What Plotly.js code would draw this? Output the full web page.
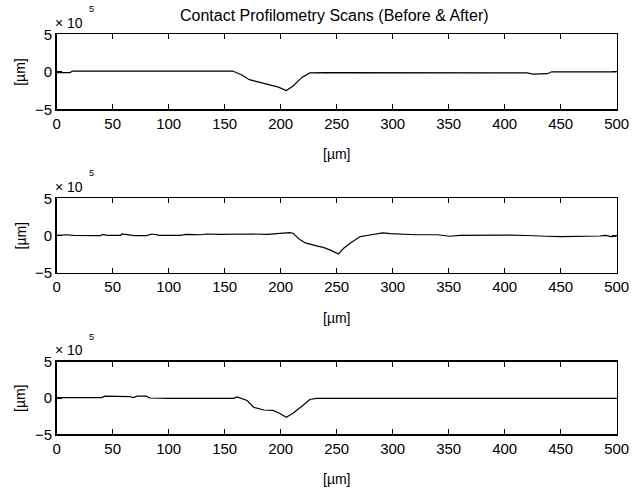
<!DOCTYPE html>
<html>
<head>
<meta charset="utf-8">
<script src="https://cdn.plot.ly/plotly-3.0.1.min.js"></script>
<style>html,body{margin:0;padding:0;background:#fff;}#chart{width:634px;height:492px;}</style>
</head>
<body>
<div id="chart"></div>
<script>
// Profile heights in units of 1e5 µm (axes labelled ×10^5)
const scan1X = [0, 12, 14, 50, 100, 150, 157, 165, 172, 177, 187, 198, 205, 211, 219, 226, 240, 300, 380, 420, 425, 432, 438, 442, 450, 500];
const scan1Y = [-0.1, -0.1, 0.1, 0.12, 0.12, 0.12, 0.1, -0.4, -1.05, -1.25, -1.6, -2.05, -2.5, -1.9, -0.75, -0.15, -0.1, -0.1, -0.1, -0.15, -0.3, -0.3, -0.25, 0.0, -0.02, -0.02];

const scan2X = [0, 9, 15, 24, 39, 41, 45, 57, 58, 69, 80, 85, 92, 110, 116, 128, 134, 146, 164, 176, 188, 200, 208, 211, 214, 217, 222, 226, 232, 238, 245, 251.5, 256, 262, 267, 271, 277, 284, 291, 298, 306, 320, 340, 351, 360, 380, 400, 420, 425, 430, 437, 450, 465, 480, 485, 490, 495, 500];
const scan2Y = [0.02, 0.1, 0.02, -0.02, -0.02, 0.15, 0.02, 0.02, 0.2, -0.02, -0.02, 0.2, 0.02, 0.02, 0.15, 0.1, 0.2, 0.15, 0.2, 0.2, 0.15, 0.34, 0.38, 0.3, -0.15, -0.55, -1.0, -1.2, -1.4, -1.6, -2.0, -2.5, -1.75, -1.05, -0.55, -0.15, 0.0, 0.15, 0.34, 0.25, 0.16, 0.1, 0.1, -0.1, 0.02, 0.06, 0.06, 0.0, -0.05, -0.1, -0.1, -0.15, -0.15, -0.15, -0.07, 0.02, -0.15, -0.1];

const scan3X = [0, 40, 43, 55, 65, 68, 72, 80, 83, 100, 150, 158, 161, 164, 170, 176, 185, 193, 199, 205, 211, 220, 226, 232, 260, 500];
const scan3Y = [0.05, 0.05, 0.25, 0.25, 0.2, 0.05, 0.25, 0.25, 0.0, -0.05, -0.05, -0.05, 0.15, -0.05, -0.35, -1.3, -1.65, -1.7, -2.1, -2.65, -2.1, -1.0, -0.2, -0.05, -0.05, -0.05];

const xTicks = [0, 50, 100, 150, 200, 250, 300, 350, 400, 450, 500];
const yTicks = [-5, 0, 5];
const chartTitle = 'Contact Profilometry Scans (Before & After)';
const axisLabel = '[µm]';
const scaleBase = '× 10';
const scaleExp = '5';

const FONT = 'Liberation Sans, Arial, sans-serif';
const W = 634, H = 492;
const xDom = [56.7 / W, 616.7 / W];
const panels = [[34.3, 109.3], [198.3, 272.7], [361.7, 434.3]];
const py = p => (H - p) / H;

const lineStyle = {color: '#000', width: 1.2};
const traces = [
  {x: scan1X, y: scan1Y, xaxis: 'x', yaxis: 'y'},
  {x: scan2X, y: scan2Y, xaxis: 'x2', yaxis: 'y2'},
  {x: scan3X, y: scan3Y, xaxis: 'x3', yaxis: 'y3'}
].map(t => Object.assign(t, {type: 'scatter', mode: 'lines', line: lineStyle, showlegend: false, hoverinfo: 'skip'}));

const layout = {
  width: W, height: H,
  margin: {l: 0, r: 0, t: 0, b: 0},
  paper_bgcolor: '#fff', plot_bgcolor: '#fff',
  font: {family: FONT, size: 15, color: '#000'},
  showlegend: false,
  annotations: []
};

panels.forEach((pp, i) => {
  const s = i === 0 ? '' : String(i + 1);
  layout['xaxis' + s] = {
    domain: xDom, range: [0, 500], anchor: 'y' + s,
    tickvals: xTicks, ticks: 'inside', ticklen: 5, tickcolor: '#000', tickwidth: 1,
    showline: true, linecolor: '#000', linewidth: 1.5, mirror: 'ticks',
    showgrid: false, zeroline: false, automargin: false,
    tickfont: {family: FONT, size: 15, color: '#000'}
  };
  layout['yaxis' + s] = {
    domain: [py(pp[1]), py(pp[0])], range: [-5, 5], anchor: 'x' + s,
    tickvals: yTicks, ticks: 'inside', ticklen: 5, tickcolor: '#000', tickwidth: 1,
    showline: true, linecolor: '#000', linewidth: 1.5, mirror: 'ticks',
    showgrid: false, zeroline: false, automargin: false,
    tickfont: {family: FONT, size: 15, color: '#000'}
  };
  const mid = (pp[0] + pp[1]) / 2;
  layout.annotations.push(
    {xref: 'paper', yref: 'paper', x: 20 / W, y: py(mid), text: axisLabel, textangle: -90,
     showarrow: false, font: {family: FONT, size: 14, color: '#000'}, xanchor: 'center', yanchor: 'middle'},
    {xref: 'paper', yref: 'paper', x: 336.7 / W, y: py(pp[1] + 45), text: axisLabel,
     showarrow: false, font: {family: FONT, size: 14, color: '#000'}, xanchor: 'center', yanchor: 'middle'},
    {xref: 'paper', yref: 'paper', x: 53 / W, y: py(pp[0] - 11.5), text: scaleBase,
     showarrow: false, font: {family: FONT, size: 14, color: '#000'}, xanchor: 'left', yanchor: 'middle'},
    {xref: 'paper', yref: 'paper', x: 91.5 / W, y: py(pp[0] - 25), text: scaleExp,
     showarrow: false, font: {family: FONT, size: 9, color: '#000'}, xanchor: 'center', yanchor: 'middle'}
  );
});

layout.annotations.push({xref: 'paper', yref: 'paper', x: 334.5 / W, y: py(16), text: chartTitle,
  showarrow: false, font: {family: FONT, size: 16, color: '#000'}, xanchor: 'center', yanchor: 'middle'});

Plotly.newPlot('chart', traces, layout, {staticPlot: true, displayModeBar: false});
</script>
</body>
</html>
